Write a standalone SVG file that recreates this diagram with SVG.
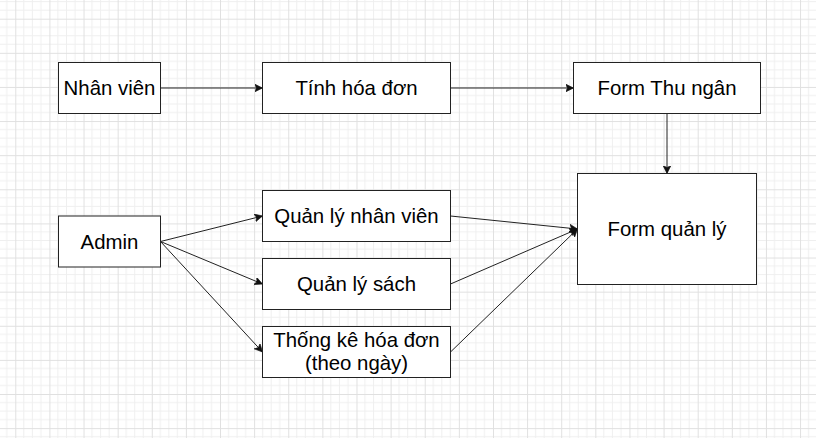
<svg xmlns="http://www.w3.org/2000/svg" width="816" height="438" viewBox="0 0 816 438">
<defs>
<pattern id="grid" patternUnits="userSpaceOnUse" x="15.3" y="18.7" width="34.12" height="34.12">
<path d="M8.53 0V34.12M17.06 0V34.12M25.59 0V34.12M0 8.53H34.12M0 17.06H34.12M0 25.59H34.12" stroke="#efefef" stroke-width="1" fill="none"/>
<path d="M0.5 0V34.12M0 0.5H34.12" stroke="#e0e0e0" stroke-width="1" fill="none"/>
</pattern>
<marker id="arr" markerUnits="userSpaceOnUse" markerWidth="10" markerHeight="10" refX="8" refY="4" orient="auto">
<path d="M0,0 L8,4 L0,8 L2,4 Z" fill="#111" stroke="#111" stroke-width="0.6"/>
</marker>
<style>
.box{fill:#fff;stroke:#222;stroke-width:1}
.lbl{font-family:"Liberation Sans",Arial,sans-serif;font-size:20.4px;fill:#000;text-anchor:middle}
.edge{fill:none;stroke:#222;stroke-width:1;marker-end:url(#arr)}
</style>
</defs>
<rect width="816" height="438" fill="#fff"/>
<rect width="816" height="438" fill="url(#grid)"/>
<g id="connectors">
<path class="edge" d="M160.5 88H262.5"/>
<path class="edge" d="M450.5 88H573.5"/>
<path class="edge" d="M667 113.5V173.5"/>
<path class="edge" d="M160.5 241.5L262.5 216"/>
<path class="edge" d="M160.5 241.5L262.5 284"/>
<path class="edge" d="M160.5 241.5L262.5 352"/>
<path class="edge" d="M450.5 216L577.5 229"/>
<path class="edge" d="M450.5 284L577.5 229"/>
<path class="edge" d="M450.5 352L577.5 229"/>
</g>
<g id="nhanvien"><rect class="box" x="58.5" y="62.5" width="102" height="51"/><text class="lbl" x="109.5" y="95">Nhân viên</text></g>
<g id="tinhhoadon"><rect class="box" x="262.5" y="62.5" width="188" height="51"/><text class="lbl" x="356.5" y="95">Tính hóa đơn</text></g>
<g id="formthungan"><rect class="box" x="573.5" y="62.5" width="187" height="51"/><text class="lbl" x="667" y="95">Form Thu ngân</text></g>
<g id="admin"><rect class="box" x="58.5" y="216" width="102" height="51"/><text class="lbl" x="109.5" y="248.5">Admin</text></g>
<g id="qlnhanvien"><rect class="box" x="262.5" y="190.5" width="188" height="51"/><text class="lbl" x="356.5" y="223">Quản lý nhân viên</text></g>
<g id="qlsach"><rect class="box" x="262.5" y="258.5" width="188" height="51"/><text class="lbl" x="356.5" y="291">Quản lý sách</text></g>
<g id="thongke"><rect class="box" x="262.5" y="326.5" width="188" height="51"/><text class="lbl" x="356.5" y="346.5">Thống kê hóa đơn</text><text class="lbl" x="356.5" y="369.5">(theo ngày)</text></g>
<g id="formquanly"><rect class="box" x="577.5" y="173.5" width="179" height="111"/><text class="lbl" x="667" y="235.5">Form quản lý</text></g>
</svg>
